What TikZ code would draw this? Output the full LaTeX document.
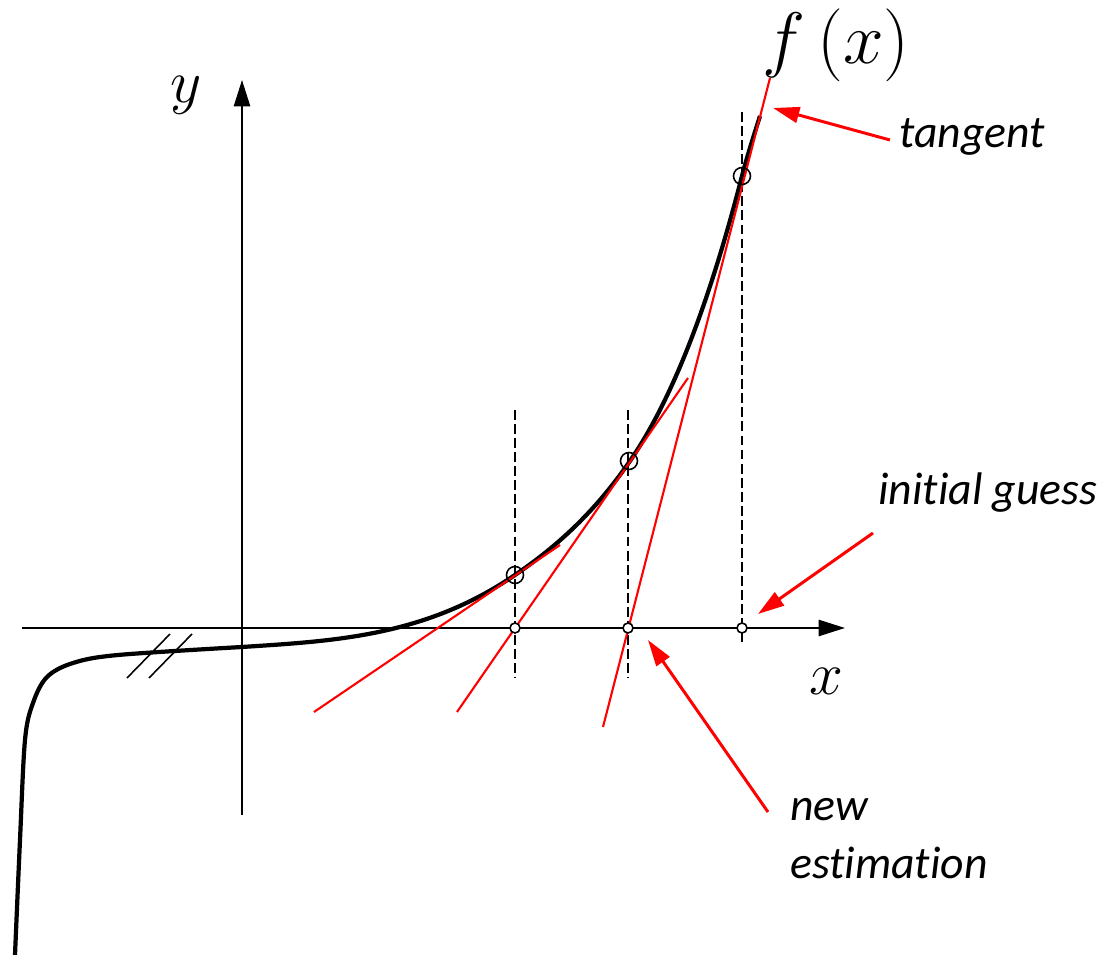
\documentclass[tikz,border=0pt]{standalone}
\usepackage{fontspec}
\newfontfamily\notefont[Ligatures=NoCommon]{Carlito}
\usetikzlibrary{arrows.meta}
\begin{document}
\begin{tikzpicture}[x=0.01cm,y=-0.01cm,>={Triangle[length=7.5pt,width=4.5pt]},
    axis/.style={line width=0.6pt,->,>={Triangle[length=7.5pt,width=4.6pt]}},
    guide/.style={line width=0.6pt,dash pattern=on 2.8pt off 1.2pt},
    tangentline/.style={red,line width=0.6pt},
    pointer/.style={red,line width=0.85pt,->},
    note/.style={font=\notefont\itshape\fontsize{13}{16.5}\selectfont,inner sep=1pt},
    mathlabel/.style={font=\fontsize{17}{20}\selectfont,inner sep=0pt},
    onaxis/.style={circle,draw,fill=white,line width=0.45pt,inner sep=0pt,minimum size=0.1cm},
    oncurve/.style={circle,draw,line width=0.45pt,inner sep=0pt,minimum size=0.17cm}]
    \useasboundingbox (0,0) rectangle (1108,955);

    % axes
    \coordinate (xstart) at (22,628);
    \coordinate (xend) at (845,628);
    \coordinate (ystart) at (242,815);
    \coordinate (yend) at (242,80);
    \draw[axis] (xstart) -- (xend);
    \draw[axis] (ystart) -- (yend);
    \node (ylabel) [mathlabel] at (186,95) {$y$};
    \node (xlabel) [mathlabel] at (826,681) {$x$};

    % the function
    \draw[line width=1.2pt] plot[smooth,tension=0.55] coordinates {(15,955) (20,840) (25,740) (33,703) (47,677) (73,663) (118,655) (242,647)}
        .. controls (333,641) and (424,637) .. (515,575)
        .. controls (553,549) and (592,516) .. (630,461)
        .. controls (667,407) and (705,320) .. (742,176)
        .. controls (748,153) and (755,132) .. (760,116);
    \node (flabel) [font=\fontsize{20}{24}\selectfont,inner sep=0pt] at (836,45) {$f\,\bigl(x\bigr)$};

    % break marks
    \draw[line width=0.45pt] (127,678) -- (170,634);
    \draw[line width=0.45pt] (149,678) -- (192,634);

    % guide lines through the estimates
    \coordinate (g1top) at (515,410);
    \coordinate (g1bot) at (515,678);
    \coordinate (g2top) at (628,410);
    \coordinate (g2bot) at (628,678);
    \coordinate (g3top) at (742,112);
    \coordinate (g3bot) at (742,645);
    \draw[guide] (g1top) -- (g1bot);
    \draw[guide] (g2top) -- (g2bot);
    \draw[guide] (g3top) -- (g3bot);

    % tangents
    \coordinate (t1a) at (314,712);
    \coordinate (t1b) at (560,545);
    \coordinate (t2a) at (457,712);
    \coordinate (t2b) at (688,378);
    \coordinate (t3a) at (603,727);
    \coordinate (t3b) at (770,78);
    \draw[tangentline] (t1a) -- (t1b);
    \draw[tangentline] (t2a) -- (t2b);
    \draw[tangentline] (t3a) -- (t3b);

    % points
    \node (p1) [oncurve] at (515,575) {};
    \node (p2) [oncurve] at (629,461) {};
    \node (p3) [oncurve] at (742,176) {};
    \node (x1) [onaxis] at (515,628) {};
    \node (x2) [onaxis] at (628,628) {};
    \node (x3) [onaxis] at (742,628) {};

    % notes
    \node (tangent) [note] at (972,137) {tangent};
    \node (guess) [note] at (988,493) {initial guess};
    \node (estimate) [note,align=left,anchor=west] at (786,839) {new\\estimation};
    \coordinate (tangenttail) at (890,140);
    \coordinate (tangenttip) at (773,108);
    \coordinate (guesstail) at (873,533);
    \coordinate (guesstip) at (758,614);
    \coordinate (estimatetail) at (768,812);
    \coordinate (estimatetip) at (648,640);
    \draw[pointer] (tangenttail) -- (tangenttip);
    \draw[pointer] (guesstail) -- (guesstip);
    \draw[pointer] (estimatetail) -- (estimatetip);
\end{tikzpicture}
\end{document}
